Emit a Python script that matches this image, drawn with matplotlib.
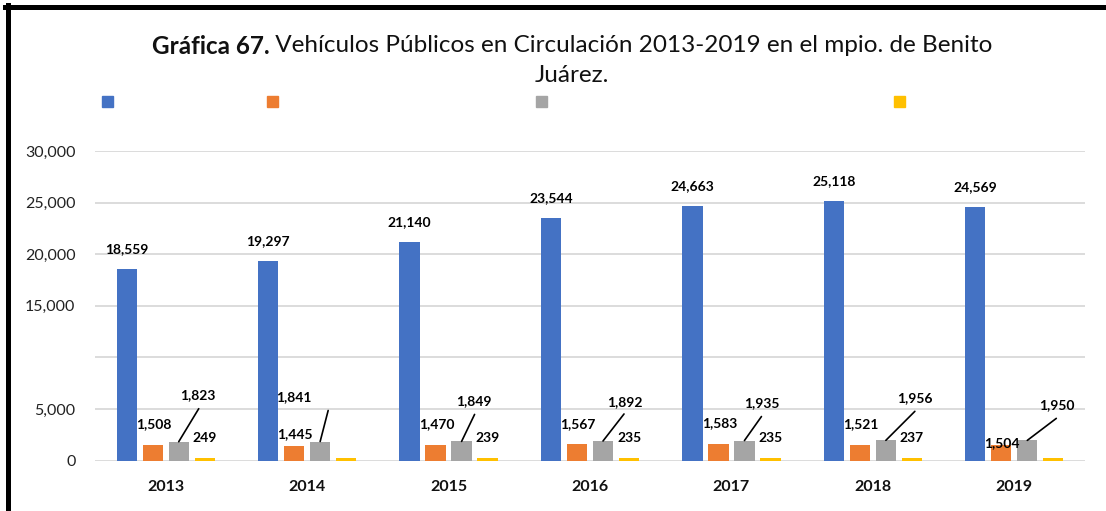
import matplotlib.pyplot as plt
from matplotlib.lines import Line2D
from matplotlib.patches import Rectangle

# años y series de vehículos públicos
anios = ["2013", "2014", "2015", "2016", "2017", "2018", "2019"]
serie_1 = [18559, 19297, 21140, 23544, 24663, 25118, 24569]
serie_2 = [1508, 1445, 1470, 1567, 1583, 1521, 1504]
serie_3 = [1823, 1841, 1849, 1892, 1935, 1956, 1950]
serie_4 = [249, 240, 239, 235, 235, 237, 240]
mostrar_4 = [True, False, True, True, True, True, False]

colores = ["#4472C4", "#ED7D31", "#A5A5A5", "#FFC000"]
yticks = [0, 5000, 10000, 15000, 20000, 25000, 30000]
ytick_labels = ["0", "5,000", "", "15,000", "20,000", "25,000", "30,000"]

# desplazamientos (px) de etiquetas
dy_2 = [21, 12, 21, 20, 21, 21, 2]
dx_3 = [19, -26, 12, 22, 17, 29, 30]
dy_3 = [47, 44, 40, 39, 37, 42, 35]
lx_3 = [20, 8, 13, 21, 17, 29, 29]
ly_3 = [33, 31, 27, 27, 24, 29, 22]

W, H = 1106, 511
plt.rcParams["font.family"] = ["Lato", "DejaVu Sans"]
fig = plt.figure(figsize=(W / 100, H / 100), dpi=100)
ax = fig.add_axes([95 / W, 1 - 460.5 / H, 990 / W, 309.5 / H])

x = list(range(len(anios)))
ancho = 0.143
paso = 0.184
series = [serie_1, serie_2, serie_3, serie_4]
for k, (vals, c) in enumerate(zip(series, colores)):
    pos = [i + (k - 1.5) * paso for i in x]
    ax.bar(pos, vals, width=ancho, color=c, zorder=3)

lbl = dict(fontsize=10, fontweight="bold", color="black",
           ha="center", va="center", textcoords="offset pixels",
           annotation_clip=False, zorder=5)
for i in x:
    p1 = i - 1.5 * paso
    p2 = i - 0.5 * paso
    p3 = i + 0.5 * paso
    p4 = i + 1.5 * paso
    ax.annotate(f"{serie_1[i]:,}", (p1, serie_1[i]), xytext=(0, 20), **lbl)
    ax.annotate(f"{serie_2[i]:,}", (p2, serie_2[i]), xytext=(1, dy_2[i]), **lbl)
    ax.annotate(f"{serie_3[i]:,}", (p3, serie_3[i]), xytext=(dx_3[i], dy_3[i]), **lbl)
    ax.annotate("", (p3, serie_3[i]), xytext=(lx_3[i], ly_3[i]),
                textcoords="offset pixels", annotation_clip=False,
                arrowprops=dict(arrowstyle="-", color="black", lw=1.2,
                                shrinkA=0, shrinkB=0), zorder=5)
    if mostrar_4[i]:
        ax.annotate(f"{serie_4[i]:,}", (p4, serie_4[i]), xytext=(0, 20), **lbl)

ax.set_xlim(-0.5, len(anios) - 0.5)
ax.set_ylim(0, 30000)
ax.set_yticks(yticks)
ax.set_yticklabels(ytick_labels)
ax.set_xticks(x)
ax.set_xticklabels(anios, fontweight="bold")
ax.tick_params(axis="y", length=0, pad=14, labelsize=11.5, labelcolor="#222222")
ax.tick_params(axis="x", length=0, pad=14, labelsize=11.5, labelcolor="#111111")
ax.grid(axis="y", color="#d9d9d9", lw=1.3, zorder=0)
for s in ax.spines.values():
    s.set_visible(False)

# título en dos partes (negrita + normal), centrado
fig.canvas.draw()
r = fig.canvas.get_renderer()
ty = 1 - 46 / H
t1 = fig.text(0, ty, "Gráfica 67.", fontsize=17.5, fontweight="bold",
              va="center", color="#111111")
t2 = fig.text(0, ty, " Vehículos Públicos en Circulación 2013-2019 en el mpio. de Benito",
              fontsize=17.5, va="center", color="#111111")
w1 = t1.get_window_extent(r).width
w2 = t2.get_window_extent(r).width
x0 = 572 - (w1 + w2) / 2
t1.set_x(x0 / W)
t2.set_x((x0 + w1) / W)
fig.text(572 / W, 1 - 75 / H, "Juárez.", fontsize=17.5, ha="center",
         va="center", color="#111111")

# marcadores de leyenda sin texto
for cx, c in zip([107.5, 272.5, 541.5, 899.5], colores):
    fig.add_artist(Rectangle(((cx - 5.5) / W, 1 - 107 / H), 11 / W, 11 / H,
                             color=c, transform=fig.transFigure))

# marco
fig.add_artist(Line2D([7.5 / W, 7.5 / W], [0, 1 - 5 / H], color="black", lw=3.6,
                      transform=fig.transFigure))
fig.add_artist(Line2D([5 / W, 1], [1 - 7 / H, 1 - 7 / H], color="black", lw=3.6,
                      transform=fig.transFigure))

fig.savefig("out.png", dpi=100)
